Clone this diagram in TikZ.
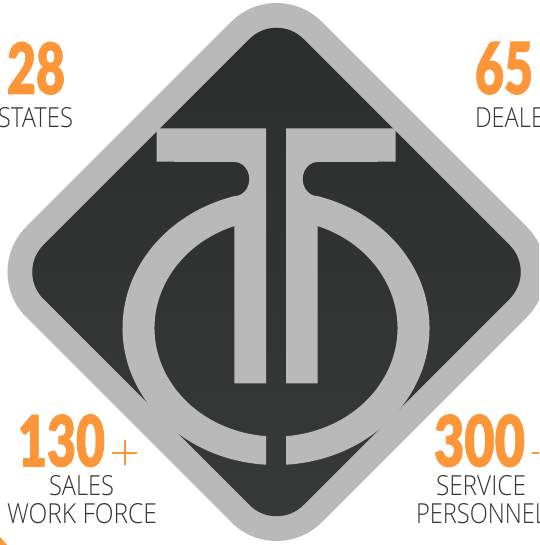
\documentclass[tikz,border=0pt]{standalone}
\usepackage{fontspec}
\setmainfont{Liberation Sans}
\newfontfamily\numfont{Lato}[UprightFont=* Black,FakeBold=1.2]
\newfontfamily\lblfont{Open Sans}[UprightFont=* Light]
\definecolor{ring}{HTML}{B9B9B9}
\definecolor{darktop}{HTML}{2B2C2C}
\definecolor{darkbot}{HTML}{383939}
\definecolor{accent}{HTML}{FC9639}
\definecolor{lbl}{HTML}{333434}
\newcommand{\numtxt}[3]{\textcolor{accent}{\resizebox{#1pt}{#2pt}{\numfont #3}}}
\newcommand{\lbltxt}[3]{\textcolor{lbl}{\resizebox{#1pt}{#2pt}{\lblfont #3}}}
\newcommand{\halfmark}{(156.5,416.7) -- (266,416.7) -- (266,161.5) -- (234.3,161.5) -- (234.3,318.9)
  arc[start angle=110.07,end angle=265.28,x radius=121.5,y radius=108.5]
  -- (266,80.3)
  arc[start angle=266.27,end angle=105.76,x radius=153.5,y radius=137]
  arc[start angle=-90,end angle=90,x radius=15,y radius=17.1]
  -- (156.5,383.3) -- cycle}
\tikzset{
  x=1pt,y=1pt,
  txt/.style={anchor=south west,inner sep=0pt,outer sep=0pt},
  mark shape/.style={fill=ring,draw=none},
  plus sign/.style={accent,line width=2pt}
}
\begin{document}
\begin{tikzpicture}
\useasboundingbox (0,0) rectangle (539,545);
\clip (0,0) rectangle (539,545);
\fill[white] (0,0) rectangle (539,545);
% outer diamond
\fill[ring,rounded corners=64pt] (276.5,568.5) -- (572,273) -- (276.5,-22.5) -- (-19,273) -- cycle;
% inner diamond
\shade[top color=darktop,bottom color=darkbot,rounded corners=38pt] (276.5,533) -- (536.5,273) -- (276.5,13) -- (16.5,273) -- cycle;
% logo mark
\fill[mark shape] \halfmark;
\begin{scope}[xshift=552pt,xscale=-1]
\fill[mark shape] \halfmark;
\end{scope}
% texts
\node[txt] (n28) at (7,450.5) {\numtxt{58}{52}{28}};
\node[txt] (lstates) at (-2,417) {\lbltxt{75}{20}{STATES}};
\node[txt] (n65) at (475,450.5) {\numtxt{58}{52}{65}};
\node[txt] (ldealers) at (475,417) {\lbltxt{96}{20}{DEALERS}};
\node[txt] (n130) at (18,78) {\numtxt{87}{52}{130}};
\draw[plus sign] (112,92) -- (137,92) (124.5,79.5) -- (124.5,104.5);
\node[txt] (lsales) at (49,49) {\lbltxt{65}{20}{SALES}};
\node[txt] (lwork) at (7,21) {\lbltxt{150}{20}{WORK FORCE}};
\node[txt] (n300) at (434,78) {\numtxt{91}{52}{300}};
\draw[plus sign] (532,92) -- (557,92) (544.5,79.5) -- (544.5,104.5);
\node[txt] (lservice) at (436,49) {\lbltxt{90}{20}{SERVICE}};
\node[txt] (lperson) at (416,21) {\lbltxt{131}{20}{PERSONNEL}};
\fill[accent] (0,8) -- (7,0) -- (0,0) -- cycle;
\end{tikzpicture}
\end{document}
